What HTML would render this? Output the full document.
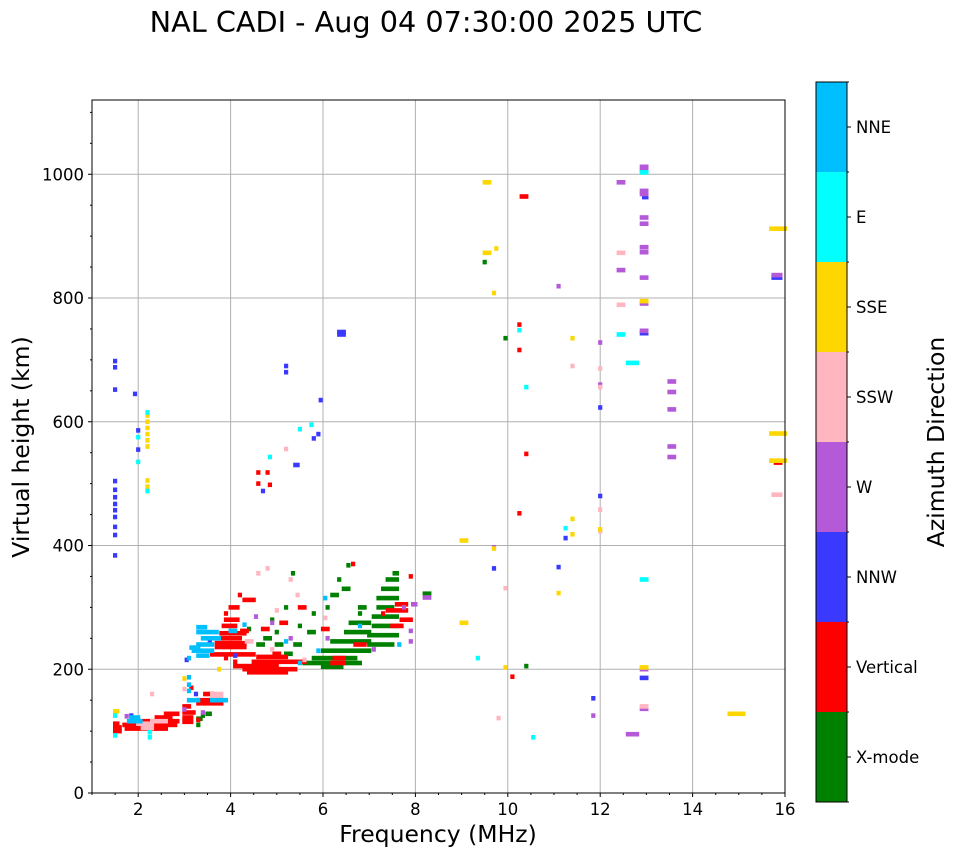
<!DOCTYPE html>
<html><head><meta charset="utf-8">
<style>
html,body{margin:0;padding:0;background:#fff;width:958px;height:857px;overflow:hidden}
svg{display:block;font-family:"DejaVu Sans","Liberation Sans",sans-serif}
</style></head>
<body>
<svg id="chart" width="958" height="857" xmlns="http://www.w3.org/2000/svg">
<text x="426" y="32" font-size="28.7" text-anchor="middle" fill="#000">NAL CADI - Aug 04 07:30:00 2025 UTC</text>
<g id="grid"></g>
<g id="marks"></g>
<g id="axes"></g>
<g id="cbar"></g>
<text x="438" y="842" font-size="23.5" text-anchor="middle">Frequency (MHz)</text>
<text transform="translate(29,447) rotate(-90)" font-size="23.5" text-anchor="middle">Virtual height (km)</text>
<text transform="translate(944,442) rotate(-90)" font-size="23.5" text-anchor="middle">Azimuth Direction</text>
</svg>
<script>
const categories = ["X-mode","Vertical","NNW","W","SSW","SSE","E","NNE"];
const catColors = ["#008000","#ff0000","#3a3aff","#b45ad8","#ffb6c1","#ffd700","#00ffff","#00bfff"];
const xTicks = [2,4,6,8,10,12,14,16];
const yTicks = [0,200,400,600,800,1000];
// each entry: [f0 MHz, f1 MHz, height km]
const xmode = [[3.3,3.35,120],[3.3,3.3,110],[3.4,3.4,125],[3.5,3.55,128],[9.5,9.5,858],[9.95,9.95,735],[10.4,10.4,205],
 [5.6,6.8,210],[6.0,6.4,204],[5.8,6.7,218],[6.0,7.0,230],[6.2,7.0,245],[6.5,7.0,260],[6.6,7.0,275],
 [7.0,7.5,240],[7.0,7.6,255],[7.1,7.6,270],[7.1,7.6,285],[7.2,7.5,300],[7.2,7.6,315],[7.3,7.6,330],[7.4,7.6,345],
 [4.6,4.7,240],[5.0,5.1,240],[5.4,5.5,240],[5.0,5.0,260],[5.5,5.5,270],[5.8,5.8,290],[6.1,6.1,300],[6.35,6.35,345],
 [6.8,6.8,290],[5.2,5.2,300],[4.9,4.9,280],[6.55,6.55,368],[8.2,8.3,322],[5.2,5.3,225],[4.75,4.85,250],[5.7,5.8,260],
 [6.45,6.55,330],[6.8,6.9,300],[7.55,7.6,355],[4.4,4.4,265],[5.35,5.35,355],[6.2,6.3,320]];
const vertical = [[1.5,1.6,100],[1.5,1.6,106],[1.5,1.55,112],[1.7,2.8,110],[1.75,2.6,104],[2.1,2.85,116],[2.4,2.7,122],[2.6,2.85,128],
 [3.3,3.8,150],[3.3,3.8,145],[3.45,3.6,160],[3.0,3.2,130],[3.0,3.15,122],[3.0,3.15,115],[3.0,3.1,140],[3.15,3.15,170],[3.3,3.3,118],
 [3.7,4.3,236],[3.7,4.3,242],[3.6,4.5,224],[3.7,4.2,250],[3.8,4.3,258],[3.85,4.1,270],[3.9,4.15,280],[3.9,3.9,290],[4.0,4.15,300],[4.2,4.2,320],
 [3.9,3.9,218],[4.1,4.1,212],[4.1,5.0,205],[4.3,5.4,200],[4.4,5.2,195],[4.5,5.6,212],[4.6,5.2,220],
 [6.2,6.45,210],[6.25,6.45,218],[6.7,6.9,240],[7.5,7.7,270],[7.4,7.8,295],[7.6,7.8,305],[7.7,7.9,280],[6.65,6.65,370],[7.3,7.3,290],[4.3,4.5,312],
 [4.6,4.6,518],[4.8,4.8,518],[4.85,4.85,498],[4.6,4.6,500],[10.3,10.4,964],[10.25,10.25,757],[10.25,10.25,716],[10.4,10.4,548],[10.25,10.25,452],[10.1,10.1,188],[15.8,15.9,534],
 [4.7,4.8,265],[5.1,5.2,275],[5.5,5.6,300],[6.0,6.1,265],[7.9,7.9,350],[4.25,4.35,262],[4.95,5.05,225]];
const nnw = [[1.5,1.5,698],[1.5,1.5,688],[1.5,1.5,652],[1.5,1.5,504],[1.5,1.5,490],[1.5,1.5,478],[1.5,1.5,467],[1.5,1.5,457],[1.5,1.5,446],[1.5,1.5,430],[1.5,1.5,417],[1.5,1.5,384],
 [1.93,1.93,645],[2.0,2.0,586],[2.0,2.0,555],[1.85,1.85,125],[3.25,3.25,160],[4.7,4.7,488],[5.2,5.2,690],[5.2,5.2,680],[5.4,5.45,530],[5.8,5.8,573],[5.9,5.9,580],[5.95,5.95,635],
 [6.35,6.45,745],[6.35,6.45,741],[3.3,3.3,230],[3.05,3.05,215],[4.1,4.1,222],[3.55,3.55,245],[9.7,9.7,363],[11.25,11.25,412],[11.1,11.1,365],[12.0,12.0,623],[12.0,12.0,480],[11.85,11.85,153],
 [12.95,13.0,963],[12.9,13.0,743],[12.9,13.0,186],[15.75,15.9,833]];
const west = [[1.75,1.75,124],[3.0,3.0,135],[3.4,3.4,130],[4.55,4.55,285],[4.9,4.9,275],[5.3,5.3,250],[6.1,6.1,250],[7.9,7.9,262],[7.9,7.9,245],[8.2,8.3,316],[7.75,7.75,300],[7.1,7.1,232],
 [7.95,8.0,305],[9.7,9.7,397],[11.1,11.1,819],[12.0,12.0,728],[12.0,12.0,660],[11.85,11.85,125],[12.4,12.5,987],[12.4,12.5,845],[12.6,12.8,95],
 [12.9,13.0,1012],[12.9,13.0,1006],[12.9,13.0,973],[12.9,13.0,968],[12.9,13.0,930],[12.9,13.0,920],[12.9,13.0,882],[12.9,13.0,874],[12.9,13.0,833],[12.9,13.0,791],[12.9,13.0,747],[12.9,13.0,200],[12.9,13.0,136],
 [13.5,13.6,665],[13.5,13.6,648],[13.5,13.6,620],[13.5,13.6,560],[13.5,13.6,543],[15.75,15.9,837]];
const ssw = [[2.1,2.3,105],[2.0,2.3,112],[2.3,2.6,116],[2.3,2.3,160],[3.6,3.8,155],[3.6,3.8,160],[3.0,3.0,168],[4.6,4.6,355],[4.8,4.8,363],[5.3,5.3,345],[5.45,5.45,320],[4.9,4.9,232],[5.6,5.6,215],[6.05,6.05,283],
 [5.2,5.2,556],[9.95,9.95,331],[9.8,9.8,121],[11.4,11.4,690],[12.0,12.0,686],[12.0,12.0,656],[12.0,12.0,458],[12.0,12.0,423],[12.4,12.5,873],[12.4,12.5,789],[12.9,13.0,140],[15.75,15.9,482],[4.35,4.45,245],[5.0,5.0,295]];
const sse = [[1.5,1.55,132],[2.2,2.2,560],[2.2,2.2,570],[2.2,2.2,580],[2.2,2.2,590],[2.2,2.2,600],[2.2,2.2,610],[2.2,2.2,495],[2.2,2.2,505],[3.0,3.0,185],
 [9.5,9.6,987],[9.5,9.6,873],[9.75,9.75,880],[9.7,9.7,808],[9.0,9.1,408],[9.0,9.1,275],[9.7,9.7,395],[9.95,9.95,203],[11.4,11.4,735],[11.4,11.4,443],[11.4,11.4,418],[11.1,11.1,323],
 [12.0,12.0,426],[12.9,13.0,795],[12.9,13.0,203],[14.8,15.1,128],[15.7,16.0,912],[15.7,16.0,581],[15.7,16.0,537],[3.75,3.75,200]];
const east = [[1.5,1.5,125],[1.5,1.5,93],[2.25,2.25,90],[2.25,2.25,98],[2.0,2.0,575],[2.0,2.0,535],[2.2,2.2,488],[2.2,2.2,615],[4.85,4.85,543],[5.5,5.5,588],[5.75,5.75,595],
 [9.35,9.35,218],[10.25,10.25,748],[10.4,10.4,656],[10.55,10.55,90],[11.25,11.25,428],[12.4,12.5,741],[12.6,12.8,695],[12.9,13.0,1003],[12.9,13.0,345]];
const nne = [[1.8,2.05,116],[1.85,2.0,122],[3.6,3.9,150],[3.1,3.3,150],[3.1,3.1,165],[3.1,3.1,175],[3.1,3.1,187],
 [3.2,3.6,230],[3.3,3.6,240],[3.4,3.75,250],[3.3,3.5,222],[3.3,3.7,260],[3.1,3.1,218],[3.15,3.3,235],[3.3,3.45,268],
 [5.2,5.2,245],[5.9,5.9,230],[6.8,6.8,270],[6.05,6.05,315],[7.65,7.65,240],[5.5,5.5,210],[4.3,4.3,272],[4.0,4.1,262]];
const series = [xmode, vertical, nnw, west, ssw, sse, east, nne];

const X0=92, X1=785, Y0=793, Y1=100, FMIN=1, FMAX=16, HMIN=0, HMAX=1120;
const xs = f => X0 + (f-FMIN)/(FMAX-FMIN)*(X1-X0);
const ys = h => Y0 - (h-HMIN)/(HMAX-HMIN)*(Y0-Y1);
const NS="http://www.w3.org/2000/svg";
function mk(tag, attrs, parent){const e=document.createElementNS(NS,tag);for(const k in attrs)e.setAttribute(k,attrs[k]);parent.appendChild(e);return e;}
const grid=document.getElementById('grid'), marks=document.getElementById('marks'), axes=document.getElementById('axes'), cbar=document.getElementById('cbar');

xTicks.forEach(t=>{ if(t<FMAX){const l=mk('line',{x1:xs(t),x2:xs(t),y1:Y1,y2:Y0,stroke:'#b0b0b0','stroke-width':1},grid);

}});
yTicks.forEach(t=>{ if(t>HMIN){const l=mk('line',{x1:X0,x2:X1,y1:ys(t),y2:ys(t),stroke:'#b0b0b0','stroke-width':1},grid);

}});

const CW=0.09, CH=7.5;
series.forEach((arr,ci)=>{
  arr.forEach(d=>{
    const x=xs(d[0]-CW/2), w=xs(d[1]+CW/2)-x, y=ys(d[2]+CH/2), hgt=ys(d[2]-CH/2)-y;
    const r=mk('rect',{x:x.toFixed(1),y:y.toFixed(1),width:w.toFixed(1),height:hgt.toFixed(1),fill:catColors[ci]},marks);
    
    
  });
});

const fr=mk('rect',{x:X0,y:Y1,width:X1-X0,height:Y0-Y1,fill:'none',stroke:'#000','stroke-width':1},axes);


for(let f=FMIN; f<=FMAX; f+=0.5){
  const major = xTicks.includes(f);
  mk('line',{x1:xs(f),x2:xs(f),y1:Y0,y2:Y0+(major?4:2),stroke:'#000'},axes);
}
xTicks.forEach(t=>{const tx=mk('text',{x:xs(t),y:Y0+22,'font-size':16.5,'text-anchor':'middle'},axes);tx.textContent=t;

});
for(let h=HMIN; h<=HMAX; h+=50){
  const major = yTicks.includes(h);
  mk('line',{x1:X0,x2:X0-(major?4:2),y1:ys(h),y2:ys(h),stroke:'#000'},axes);
}
yTicks.forEach(t=>{const tx=mk('text',{x:X0-8,y:ys(t)+6,'font-size':16.5,'text-anchor':'end'},axes);tx.textContent=t;

});

const CB_X=816, CB_W=31, CB_TOP=82, CB_BOT=802, seg=(CB_BOT-CB_TOP)/categories.length;
categories.forEach((c,i)=>{
  const y=CB_BOT-(i+1)*seg;
  const r=mk('rect',{x:CB_X,y:y,width:CB_W,height:seg,fill:catColors[i]},cbar);
  
  
  mk('line',{x1:CB_X+CB_W,x2:CB_X+CB_W+4,y1:y+seg/2,y2:y+seg/2,stroke:'#000'},cbar);
  const t=mk('text',{x:CB_X+CB_W+9,y:y+seg/2+6,'font-size':16.5},cbar);
  t.textContent=c;
  
  
});
for(let i=0;i<=categories.length;i++){const y=CB_BOT-i*seg;mk('line',{x1:CB_X+CB_W,x2:CB_X+CB_W+2,y1:y,y2:y,stroke:'#000'},cbar);}
mk('rect',{x:CB_X,y:CB_TOP,width:CB_W,height:CB_BOT-CB_TOP,fill:'none',stroke:'#000','stroke-width':1},cbar);
</script>
</body></html>
